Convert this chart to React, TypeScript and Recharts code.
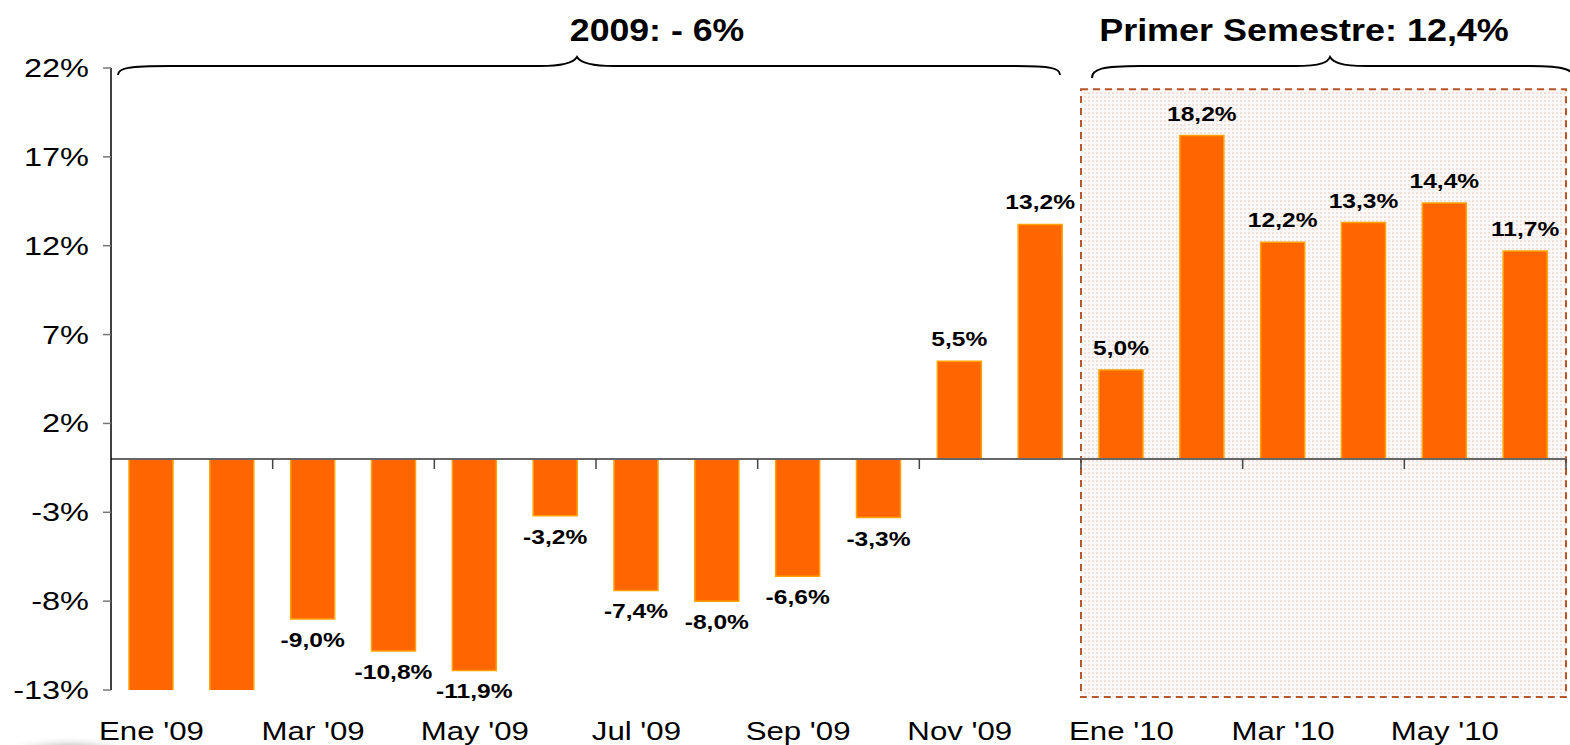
import React from 'react';
import {
  BarChart,
  Bar,
  XAxis,
  YAxis,
  ReferenceLine,
  ReferenceArea,
  LabelList,
} from 'recharts';

const FONT = '"Liberation Sans", Arial, sans-serif';

const MESES = [
  "Ene '09", "Feb '09", "Mar '09", "Abr '09", "May '09", "Jun '09",
  "Jul '09", "Ago '09", "Sep '09", "Oct '09", "Nov '09", "Dic '09",
  "Ene '10", "Feb '10", "Mar '10", "Abr '10", "May '10", "Jun '10",
];
// Ene/Feb '09 caen por debajo del eje (-13%), se recortan
const VARIACION = [
  -15.6, -15.1, -9.0, -10.8, -11.9, -3.2, -7.4, -8.0, -6.6, -3.3, 5.5, 13.2,
  5.0, 18.2, 12.2, 13.3, 14.4, 11.7,
];
const Y_TICKS = [-13, -8, -3, 2, 7, 12, 17, 22];
const TITULO_2009 = '2009: - 6%';
const TITULO_2010 = 'Primer Semestre: 12,4%';

const data = MESES.map((mes, i) => ({ mes, valor: VARIACION[i] }));

const fmt = (v: number) => `${v.toFixed(1).replace('.', ',')}%`;

// el original tiene el texto algo ensanchado
function Ancho({ x, y, sx, children, ...rest }: any) {
  return (
    <text transform={`translate(${x},${y}) scale(${sx},1)`} x={0} y={0} fontFamily={FONT} fill="#000" {...rest}>
      {children}
    </text>
  );
}

function MesTick({ x = 0, y = 0, payload }: any) {
  return (
    <Ancho x={x} y={y + 48} sx={1.2} textAnchor="middle" fontSize={26}>
      {payload?.value}
    </Ancho>
  );
}

function PctTick({ x = 0, y = 0, payload }: any) {
  return (
    <Ancho x={x} y={y + 9} sx={1.25} textAnchor="end" fontSize={26}>
      {`${payload?.value}%`}
    </Ancho>
  );
}

function ValorLabel({ x = 0, y = 0, width = 0, height = 0, value }: any) {
  if (value < Y_TICKS[0]) return null;
  const top = Math.min(y, y + height);
  const bottom = Math.max(y, y + height);
  return (
    <Ancho
      x={x + width / 2}
      y={value < 0 ? bottom + 28 : top - 15}
      sx={1.17}
      textAnchor="middle"
      fontSize={21}
      fontWeight="bold"
    >
      {fmt(value)}
    </Ancho>
  );
}

// linea del cero con marcas cada dos meses
function LineaCero(props: any) {
  const { x1, x2, y1 } = props;
  const paso = (x2 - x1) / (MESES.length / 2);
  const marcas = [];
  for (let k = 1; k <= MESES.length / 2; k++) {
    const mx = x1 + k * paso;
    marcas.push(<line key={k} x1={mx} x2={mx} y1={y1} y2={y1 + 10} stroke="#444" strokeWidth={1.5} />);
  }
  return (
    <g>
      <line x1={x1} x2={x2} y1={y1} y2={y1} stroke="#666" strokeWidth={2} />
      {marcas}
    </g>
  );
}

export default function App() {
  return (
    <div style={{ position: 'absolute', left: 0, top: 0, width: 1570, height: 745, background: '#fff', overflow: 'hidden' }}>
      <svg width={0} height={0} style={{ position: 'absolute' }}>
        <defs>
          <pattern id="puntos" width={4} height={4} patternUnits="userSpaceOnUse">
            <rect width={4} height={4} fill="#fbf8f7" />
            <rect width={2} height={2} fill="#efe2dd" />
          </pattern>
          <radialGradient id="sombra">
            <stop offset="0%" stopColor="#9a9a9a" />
            <stop offset="100%" stopColor="#ffffff" stopOpacity={0} />
          </radialGradient>
        </defs>
      </svg>
      <BarChart
        width={1570}
        height={745}
        data={data}
        margin={{ top: 68, right: 4, bottom: 0, left: 0 }}
        barSize={44}
      >
        <ReferenceArea
          x1="Ene '10"
          x2="Jun '10"
          y1={-13.4}
          y2={20.8}
          ifOverflow="visible"
          fill="url(#puntos)"
          fillOpacity={1}
          stroke="#b5562b"
          strokeWidth={2}
          strokeDasharray="7 5"
        />
        <XAxis
          dataKey="mes"
          interval={1}
          axisLine={false}
          tickLine={false}
          tickSize={0}
          height={55}
          tick={<MesTick />}
        />
        <YAxis
          domain={[-13, 22]}
          ticks={Y_TICKS}
          allowDataOverflow
          width={111}
          tick={<PctTick />}
          tickSize={8}
          tickMargin={14}
          axisLine={{ stroke: '#000', strokeWidth: 1.5 }}
          tickLine={{ stroke: '#777', strokeWidth: 1.5 }}
        />
        <Bar dataKey="valor" fill="#ff6600" stroke="#ffa200" strokeWidth={1.5} isAnimationActive={false}>
          <LabelList dataKey="valor" content={<ValorLabel />} />
        </Bar>
        <ReferenceLine y={0} shape={<LineaCero />} />
      </BarChart>
      <svg
        width={1570}
        height={745}
        style={{ position: 'absolute', left: 0, top: 0, pointerEvents: 'none' }}
      >
        <Ancho x={657} y={41} sx={1.15} textAnchor="middle" fontSize={31} fontWeight="bold">
          {TITULO_2009}
        </Ancho>
        <Ancho x={1304} y={41} sx={1.16} textAnchor="middle" fontSize={31} fontWeight="bold">
          {TITULO_2010}
        </Ancho>
        <path
          d="M118,75 C118,68 128,66 170,66 L540,66 C566,66 574,62 577,57 C580,62 588,66 614,66 L1010,66 C1052,66 1060,68 1060,75"
          fill="none"
          stroke="#000"
          strokeWidth={2}
        />
        <path
          d="M1092,78 C1092,69 1102,66 1140,66 L1295,66 C1322,66 1328,62 1330,57 C1333,62 1340,66 1366,66 L1530,66 C1566,66 1574,70 1576,80"
          fill="none"
          stroke="#000"
          strokeWidth={2}
        />
        <ellipse cx={70} cy={750} rx={70} ry={14} fill="url(#sombra)" />
      </svg>
    </div>
  );
}
